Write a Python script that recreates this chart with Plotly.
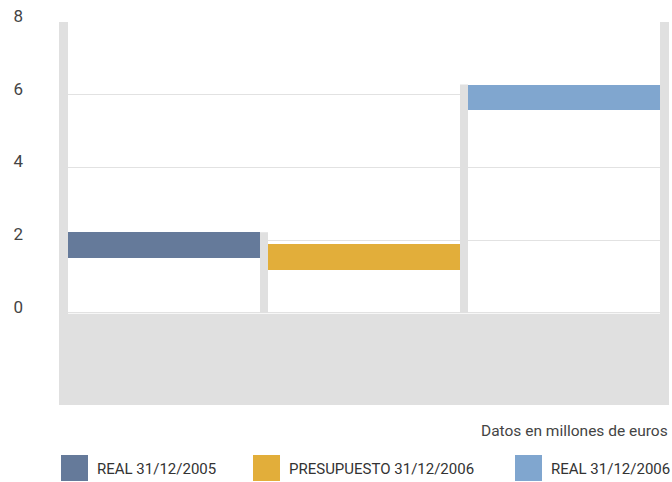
import plotly.graph_objects as go

# ---- data ----
categories = ["REAL 31/12/2005", "PRESUPUESTO 31/12/2006", "REAL 31/12/2006"]
bar_tops = [2.22, 1.89, 6.28]
bar_bottoms = [1.50, 1.18, 5.57]
colors = ["#657A9A", "#E2AE3A", "#80A6CF"]
tick_vals = [0, 2, 4, 6, 8]
tick_text = ["0", "2", "4", "6", "8"]
note_text = "Datos en millones de euros"

WALL = "#E0E0E0"
FONT = "Roboto"

x_pos = list(range(len(categories)))
BW = 0.96
X0, X1 = -0.525, 2.525
Y0, Y1 = -2.53, 8

fig = go.Figure()
fig.add_trace(go.Bar(
    x=x_pos,
    y=[t - b for t, b in zip(bar_tops, bar_bottoms)],
    base=bar_bottoms,
    width=BW,
    marker=dict(color=colors, line=dict(width=0)),
    showlegend=False,
    hoverinfo="skip",
))

shapes = []
# left and right walls, floor
shapes.append(dict(type="rect", xref="x", yref="y", x0=X0, x1=-BW / 2, y0=Y0, y1=Y1,
                   fillcolor=WALL, line=dict(width=0), layer="above"))
shapes.append(dict(type="rect", xref="x", yref="y", x0=x_pos[-1] + BW / 2, x1=X1, y0=Y0, y1=Y1,
                   fillcolor=WALL, line=dict(width=0), layer="above"))
shapes.append(dict(type="rect", xref="x", yref="y", x0=X0, x1=X1, y0=Y0, y1=-0.02,
                   fillcolor=WALL, line=dict(width=0), layer="above"))
# separators (side faces) between categories
sep_heights = [bar_tops[0], bar_tops[2]]
for i, h in enumerate(sep_heights):
    shapes.append(dict(type="rect", xref="x", yref="y",
                       x0=x_pos[i] + BW / 2, x1=x_pos[i + 1] - BW / 2, y0=0, y1=h,
                       fillcolor=WALL, line=dict(width=0), layer="above"))

# manual legend
annotations = []
leg_sq_x = [61, 253, 515]
W, H, L, T = 672, 482, 59, 22
PW, PH = 610, 383


def px2paper(px, py):
    return (px - L) / PW, ((T + PH) - py) / PH


for i, name in enumerate(categories):
    xa, ya = px2paper(leg_sq_x[i], 455)
    xb, yb = px2paper(leg_sq_x[i] + 27, 481)
    shapes.append(dict(type="rect", xref="paper", yref="paper", x0=xa, x1=xb, y0=yb, y1=ya,
                       fillcolor=colors[i], line=dict(width=0)))
    tx, ty = px2paper(leg_sq_x[i] + 34, 469)
    annotations.append(dict(xref="paper", yref="paper", x=tx, y=ty, text=name,
                            showarrow=False, xanchor="left", yanchor="middle",
                            font=dict(family=FONT, size=15, color="#333333")))

nx, ny = px2paper(670, 431)
annotations.append(dict(xref="paper", yref="paper", x=nx, y=ny, text=note_text,
                        showarrow=False, xanchor="right", yanchor="middle",
                        font=dict(family=FONT, size=15.5, color="#444444")))

fig.update_layout(
    width=W, height=H,
    margin=dict(l=L, r=W - L - PW, t=T, b=H - T - PH, pad=0),
    paper_bgcolor="white", plot_bgcolor="white",
    shapes=shapes, annotations=annotations,
    xaxis=dict(range=[X0, X1], showgrid=False, zeroline=False, showticklabels=False,
               showline=False, fixedrange=True),
    yaxis=dict(range=[Y0, Y1], tickvals=tick_vals, ticktext=tick_text,
               showgrid=True, gridcolor="#E2E2E2", gridwidth=1, zeroline=False,
               showline=False, ticks="", ticklabelstandoff=35, ticklabelshift=-6,
               tickfont=dict(family=FONT, size=17, color="#444444"), fixedrange=True),
    bargap=0,
)

fig.write_html("out.html", config={"displayModeBar": False},
               post_script="document.body.style.margin='0';document.body.style.overflow='hidden';")
